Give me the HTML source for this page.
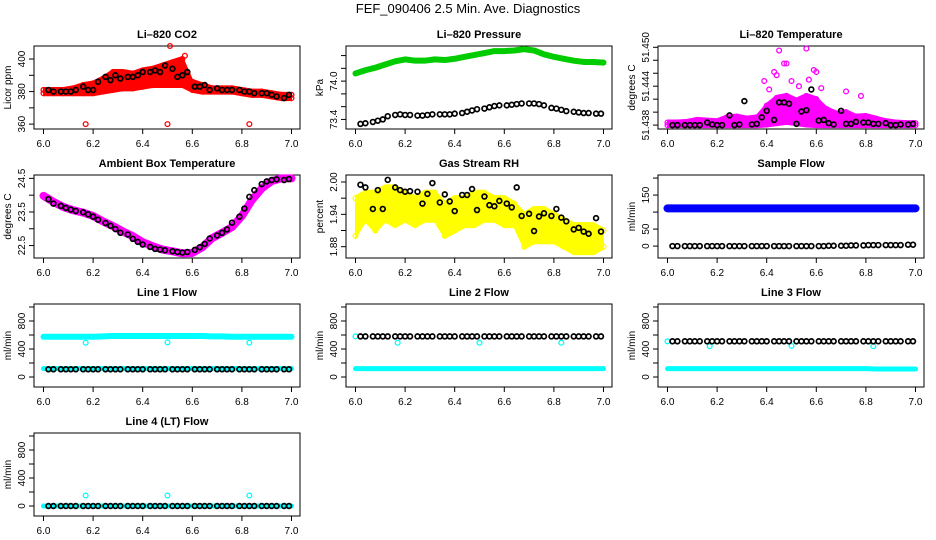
<!DOCTYPE html>
<html><head><meta charset="utf-8"><style>
html,body{margin:0;padding:0;background:#fff;}
svg{display:block;font-family:"Liberation Sans",sans-serif;}
</style></head><body>
<svg id="c" width="936" height="540" viewBox="0 0 936 540">
<text x="468" y="13" text-anchor="middle" font-size="13">FEF_090406  2.5 Min. Ave. Diagnostics</text>
</svg>
<script>
const tBlack=[6.02,6.04,6.07,6.09,6.11,6.13,6.16,6.18,6.20,6.22,6.25,6.27,6.29,6.31,6.34,6.36,6.38,6.40,6.43,6.45,6.47,6.49,6.52,6.54,6.56,6.58,6.61,6.63,6.65,6.67,6.70,6.72,6.74,6.76,6.79,6.81,6.83,6.85,6.88,6.90,6.92,6.94,6.97,6.99];
const tBand=[6.00,6.04,6.08,6.12,6.16,6.20,6.24,6.28,6.32,6.36,6.40,6.44,6.48,6.52,6.56,6.60,6.64,6.68,6.72,6.76,6.80,6.84,6.88,6.92,6.96,7.00];
const xTicks=["6.0","6.2","6.4","6.6","6.8","7.0"];

const co2Black=[381,380,380,380,380,381,383,381,381,386,389,387,390,388,389,389,390,392,392,393,392,396,394,389,390,392,383,383,384,381,382,381,381,381,381,380,380,379,379,379,378,377,376,378];
const co2Lo=[379,379,379,379,379,379,380,381,382,382,383,384,384,384,384,381,380,380,380,380,379,378,378,377,376,376];
const co2Hi=[381,381,381,382,384,385,388,392,392,391,393,394,396,398,400,386,384,382,382,382,381,380,380,379,378,378];
const co2OutT=[6.17,6.50,6.83,6.51,6.57];
const co2OutV=[360,360,360,408,402];

const presBlack=[73.33,73.34,73.36,73.38,73.40,73.45,73.47,73.48,73.47,73.47,73.46,73.46,73.47,73.48,73.48,73.48,73.48,73.49,73.50,73.52,73.54,73.56,73.57,73.59,73.61,73.62,73.62,73.63,73.64,73.65,73.65,73.65,73.64,73.62,73.58,73.57,73.55,73.53,73.52,73.51,73.50,73.50,73.49,73.49];
const presGreen=[74.12,74.17,74.21,74.26,74.31,74.34,74.32,74.32,74.34,74.33,74.35,74.38,74.41,74.44,74.47,74.47,74.48,74.50,74.48,74.42,74.38,74.35,74.32,74.30,74.30,74.29];

const tempBlack=[51.4380,51.4380,51.4380,51.4380,51.4380,51.4380,51.4384,51.4381,51.4380,51.4380,51.4395,51.4380,51.4381,51.4417,51.4381,51.4382,51.4392,51.4402,51.4388,51.4415,51.4415,51.4413,51.4382,51.4401,51.4403,51.4435,51.4387,51.4388,51.4383,51.4381,51.4402,51.4382,51.4382,51.4385,51.4384,51.4384,51.4382,51.4382,51.4383,51.4380,51.4380,51.4381,51.4381,51.4382];
const tempLo=[51.4380,51.4380,51.4380,51.4380,51.4380,51.4380,51.4380,51.4380,51.4380,51.4380,51.4381,51.4383,51.4385,51.4383,51.4381,51.4380,51.4380,51.4380,51.4380,51.4380,51.4380,51.4380,51.4380,51.4380,51.4380,51.4380];
const tempHi=[51.4384,51.4384,51.4385,51.4388,51.4387,51.4386,51.4392,51.4393,51.4390,51.4392,51.4410,51.4422,51.4425,51.4418,51.4425,51.4420,51.4405,51.4398,51.4400,51.4393,51.4394,51.4390,51.4386,51.4384,51.4383,51.4383];
const tempOutT=[6.45,6.56,6.43,6.47,6.44,6.60,6.57,6.72,6.39,6.50,6.78,6.48,6.59,6.41,6.53,6.62];
const tempOutV=[51.4495,51.4498,51.4462,51.4475,51.4457,51.4462,51.4450,51.4432,51.4448,51.4448,51.4425,51.4475,51.4465,51.4435,51.4440,51.4437];

const ambBlack=[23.88,23.75,23.68,23.62,23.57,23.53,23.49,23.43,23.36,23.27,23.17,23.09,22.99,22.88,22.83,22.70,22.61,22.53,22.46,22.40,22.38,22.36,22.33,22.31,22.29,22.31,22.37,22.45,22.55,22.71,22.80,22.88,22.98,23.18,23.36,23.60,23.95,24.15,24.33,24.41,24.45,24.47,24.45,24.48];
const ambMag=[23.98,23.80,23.65,23.55,23.48,23.38,23.22,23.08,22.92,22.78,22.60,22.48,22.38,22.33,22.27,22.28,22.45,22.72,22.88,23.05,23.38,23.85,24.20,24.42,24.50,24.50];

const rhBlack=[1.995,1.990,1.950,1.985,1.950,2.004,1.990,1.985,1.982,1.983,1.982,1.960,1.978,1.998,1.962,1.977,1.964,1.946,1.976,1.976,1.987,1.948,1.973,1.957,1.955,1.965,1.960,1.953,1.990,1.937,1.941,1.909,1.936,1.942,1.937,1.950,1.934,1.927,1.912,1.915,1.908,1.904,1.933,1.908];
const rhLo=[1.90,1.93,1.91,1.93,1.92,1.93,1.92,1.93,1.93,1.90,1.91,1.92,1.92,1.93,1.93,1.92,1.92,1.88,1.89,1.89,1.89,1.88,1.87,1.87,1.87,1.88];
const rhHi=[1.97,1.98,1.98,1.99,1.99,1.98,1.97,1.98,1.98,1.96,1.97,1.97,1.98,1.98,1.97,1.97,1.96,1.94,1.95,1.95,1.94,1.93,1.92,1.92,1.92,1.91];

const sfBlack=[0,0,0,0,0,0,0,0,0,0,0,0,0,0,0,0,0,0,0,0,0,0,0,0,0,0,0,0,1,1,1,1,2,2,2,3,3,3,3,3,3,3,4,4];
const sfBlue=[111,111,111,111,111,111,111,111,111,111,111,111,111,111,111,111,111,111,111,111,111,111,111,111,111,111];

const l1Black=[110,110,110,110,110,110,110,110,110,110,110,110,110,110,110,110,110,110,110,110,110,110,110,110,110,110,110,110,110,110,110,110,110,110,110,110,110,110,110,110,110,110,110,110];
const l1CyanHi=[575,575,575,575,575,575,580,585,585,585,585,585,585,585,585,585,585,580,580,575,575,575,575,575,575,575];
const l1CyanLo=[120,120,120,120,120,120,120,120,120,120,120,120,120,120,120,120,120,120,120,120,120,120,120,120,120,120];
const outT=[6.17,6.50,6.83];
const l1Out=[490,495,490];
const l2Black=[580,580,580,580,580,580,580,580,580,580,580,580,580,580,580,580,580,580,580,580,580,580,580,580,580,580,580,580,580,580,580,580,580,580,580,580,580,580,580,580,580,580,580,580];
const l2Cyan=[120,120,120,120,120,120,120,120,120,120,120,120,120,120,120,120,120,120,120,120,120,120,120,120,120,120];
const l2Out=[490,490,490];
const l3Black=[510,510,510,510,510,510,510,510,510,510,510,510,510,510,510,510,510,510,510,510,510,510,510,510,510,510,510,510,510,510,510,510,510,510,510,510,510,510,510,510,510,510,510,510];
const l3Cyan=[120,120,120,120,120,120,120,120,120,120,120,120,120,120,120,120,120,120,120,120,120,115,115,115,115,115];
const l3Out=[440,445,440];
const l4Black=[0,0,0,0,0,0,0,0,0,0,0,0,0,0,0,0,0,0,0,0,0,0,0,0,0,0,0,0,0,0,0,0,0,0,0,0,0,0,0,0,0,0,0,0];
const l4Cyan=[0,0,0,0,0,0,0,0,0,0,0,0,0,0,0,0,0,0,0,0,0,0,0,0,0,0];
const l4Out=[150,150,150];

const NS="http://www.w3.org/2000/svg";
const svg=document.getElementById('c');
function mk(tag,attrs,parent){const e=document.createElementNS(NS,tag);for(const k in attrs)e.setAttribute(k,attrs[k]);(parent||svg).appendChild(e);return e;}

function panel(col,row,title,ytitle,ymin,ymax,yticks,ylabels,slug){
  const L=34+312*col, T=46+129*row, W=266, H=83;
  const g=mk('g',{});
  
  
  const sx=v=>L+9.5+(v-6)*248;
  const sy=v=>T+H-(v-ymin)/(ymax-ymin)*H;
  const tt=mk('text',{x:L+W/2,y:T-8,'text-anchor':'middle','font-size':11,'font-weight':'bold'},g);
  tt.textContent=title;
  
  
  const box=mk('rect',{x:L,y:T,width:W,height:H,fill:'none',stroke:'#000','stroke-width':1},g);
  
  
  xTicks.forEach(s=>{const x=sx(parseFloat(s));
    mk('line',{x1:x,x2:x,y1:T+H,y2:T+H+5,stroke:'#000'},g);
    const t=mk('text',{x:x,y:T+H+18,'text-anchor':'middle','font-size':10},g);t.textContent=s;
    
    
  });
  yticks.forEach((v,i)=>{const y=sy(v);
    mk('line',{x1:L,x2:L-5,y1:y,y2:y,stroke:'#000'},g);
    if(ylabels[i]){const t=mk('text',{x:L-9,y:y,'text-anchor':'middle','font-size':10,transform:`rotate(-90 ${L-9} ${y})`},g);t.textContent=ylabels[i];
      
      }
  });
  const yt=mk('text',{x:L-23,y:T+H/2,'text-anchor':'middle','font-size':10,transform:`rotate(-90 ${L-23} ${T+H/2})`},g);
  yt.textContent=ytitle;
  
  
  const clip=mk('g',{},g);
  return {g:clip,sx,sy};
}
function pts(p,ts,vs,color,name,sw){
  ts.forEach((t,i)=>{const c=mk('circle',{cx:p.sx(t),cy:p.sy(vs[i]),r:2.4,fill:'none',stroke:color,'stroke-width':sw||1.3},p.g);
    
    });
}
function band(p,ts,lo,hi,color,name){
  let d='';ts.forEach((t,i)=>{d+=(i?'L':'M')+p.sx(t)+' '+(p.sy(hi[i])-2.5);});
  for(let i=ts.length-1;i>=0;i--)d+='L'+p.sx(ts[i])+' '+(p.sy(lo[i])+2.5);
  const e=mk('path',{d:d+'Z',fill:color,stroke:color,'stroke-width':1},p.g);
  
  
  pts(p,ts,hi,color,name+'-point');
  pts(p,ts,lo,color,name+'-point');
}
function thick(p,ts,vs,color,w,name){
  let d='';ts.forEach((t,i)=>{d+=(i?'L':'M')+p.sx(t)+' '+p.sy(vs[i]);});
  const e=mk('path',{d:d,fill:'none',stroke:color,'stroke-width':w,'stroke-linejoin':'round','stroke-linecap':'round'},p.g);
  
  
}
const B=1.7;
const flowTicks=[0,200,400,600,800,1000], flowLab=['0','','400','','800',''];

let p=panel(0,0,'Li–820 CO2','Licor ppm',357,408,[360,370,380,390,400],['360','','380','','400'],'co2');
band(p,tBand,co2Lo,co2Hi,'#ff0000','co2-red-band');
pts(p,co2OutT,co2OutV,'#ff0000','co2-red-outlier');
pts(p,tBlack,co2Black,'#000','co2-black-point',B);

p=panel(1,0,'Li–820 Pressure','kPa',73.25,74.55,[73.4,73.6,73.8,74.0,74.2,74.4],['73.4','','','74.0','',''],'pressure');
thick(p,tBand,presGreen,'#00cc00',6,'pressure-green-series');
pts(p,tBlack,presBlack,'#000','pressure-black-point',B);

p=panel(2,0,'Li–820 Temperature','degrees C',51.4374,51.4502,[51.438,51.440,51.442,51.444,51.446,51.448,51.450],['51.438','','','51.444','','','51.450'],'temperature');
band(p,tBand,tempLo,tempHi,'#ff00ff','temperature-magenta-band');
pts(p,tempOutT,tempOutV,'#ff00ff','temperature-magenta-outlier');
pts(p,tBlack,tempBlack,'#000','temperature-black-point',B);

p=panel(0,1,'Ambient Box Temperature','degrees C',22.13,24.6,[22.5,23.0,23.5,24.0,24.5],['22.5','','23.5','','24.5'],'ambient');
thick(p,tBand,ambMag,'#ff00ff',8,'ambient-magenta-series');
pts(p,tBlack,ambBlack,'#000','ambient-black-point',B);

p=panel(1,1,'Gas Stream RH','percent',1.859,2.013,[1.88,1.91,1.94,1.97,2.00],['1.88','','1.94','','2.00'],'rh');
band(p,tBand,rhLo,rhHi,'#ffff00','rh-yellow-band');
pts(p,tBlack,rhBlack,'#000','rh-black-point',B);

p=panel(2,1,'Sample Flow','ml/min',-35,209,[0,50,100,150,200],['0','50','','150',''],'sample-flow');
thick(p,tBand,sfBlue,'#0000ff',8,'sample-flow-blue-series');
pts(p,tBlack,sfBlack,'#000','sample-flow-black-point',B);

p=panel(0,2,'Line 1 Flow','ml/min',-143,1043,flowTicks,flowLab,'line1');
thick(p,tBand,l1CyanHi,'#00ffff',6,'line1-cyan-high');
thick(p,tBand,l1CyanLo,'#00ffff',5,'line1-cyan-low');
pts(p,outT,l1Out,'#00ffff','line1-cyan-outlier');
pts(p,tBlack,l1Black,'#000','line1-black-point',B);

p=panel(1,2,'Line 2 Flow','ml/min',-143,1043,flowTicks,flowLab,'line2');
thick(p,tBand,l2Cyan,'#00ffff',5,'line2-cyan-series');
pts(p,outT,l2Out,'#00ffff','line2-cyan-outlier');
pts(p,[6.0],[580],'#00ffff','line2-cyan-outlier');
pts(p,tBlack,l2Black,'#000','line2-black-point',B);

p=panel(2,2,'Line 3 Flow','ml/min',-143,1043,flowTicks,flowLab,'line3');
thick(p,tBand,l3Cyan,'#00ffff',5,'line3-cyan-series');
pts(p,outT,l3Out,'#00ffff','line3-cyan-outlier');
pts(p,[6.0],[510],'#00ffff','line3-cyan-outlier');
pts(p,tBlack,l3Black,'#000','line3-black-point',B);

p=panel(0,3,'Line 4 (LT) Flow','ml/min',-143,1043,flowTicks,flowLab,'line4');
thick(p,tBand,l4Cyan,'#00ffff',5,'line4-cyan-series');
pts(p,outT,l4Out,'#00ffff','line4-cyan-outlier');
pts(p,tBlack,l4Black,'#000','line4-black-point',B);
</script>
</body></html>
